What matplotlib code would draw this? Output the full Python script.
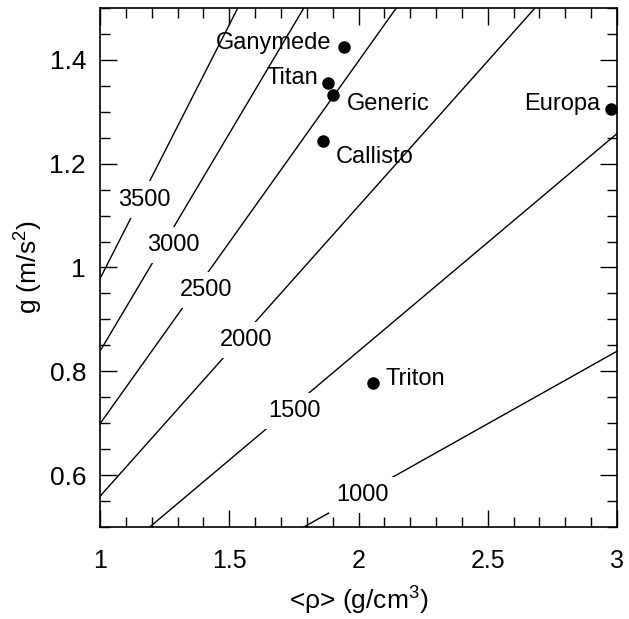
import numpy as np
import matplotlib
matplotlib.use("Agg")
import matplotlib.pyplot as plt
from matplotlib.ticker import MultipleLocator, FuncFormatter

plt.rcParams['font.family'] = ['Liberation Sans', 'DejaVu Sans']
plt.rcParams['mathtext.fontset'] = 'custom'
plt.rcParams['mathtext.rm'] = 'Liberation Sans'
plt.rcParams['mathtext.it'] = 'Liberation Sans:italic'
plt.rcParams['mathtext.bf'] = 'Liberation Sans:bold'

# Bodies: mean density (g/cm^3) and surface gravity (m/s^2)
bodies = ["Ganymede", "Titan", "Generic", "Callisto", "Europa", "Triton"]
rho = [1.944, 1.882, 1.901, 1.863, 2.977, 2.056]
grav = [1.425, 1.355, 1.333, 1.243, 1.305, 0.777]
# label offsets (points) and alignment
label_dx = [-9, -7, 10, 9, -8, 9]
label_dy = [3, 4, -7, -11, 4, 3]
label_ha = ["right", "right", "left", "left", "right", "left"]

# Radius contour levels (km)
radius_levels = [1000, 1500, 2000, 2500, 3000, 3500]
# label positions for each contour (rho, g)
label_x = [2.014, 1.754, 1.567, 1.410, 1.284, 1.170]
label_y = [0.561, 0.724, 0.860, 0.956, 1.043, 1.131]

G = 6.674e-11
k = 4.0 / 3.0 * np.pi * G * 1e3 * 1e3  # g = k * rho[g/cc] * R[km]

fig = plt.figure(figsize=(6.29, 6.19), dpi=100)
ax = fig.add_axes([100/629, 1-527/619, 517/629, 519/619])

xx = np.linspace(0.9, 3.1, 400)
yy = np.linspace(0.4, 1.6, 400)
X, Y = np.meshgrid(xx, yy)
R = Y / (k * X)
cs = ax.contour(X, Y, R, levels=radius_levels, colors='black', linewidths=1.0, zorder=1)
for lev, lx, ly in zip(radius_levels, label_x, label_y):
    ax.text(lx, ly, f"{lev}", fontsize=17, ha='center', va='center', zorder=3,
            bbox=dict(boxstyle='square,pad=0.3', facecolor='white', edgecolor='none'))

ax.plot(rho, grav, 'o', color='black', markersize=8, clip_on=False, zorder=5)
for name, x, y, dx, dy, ha in zip(bodies, rho, grav, label_dx, label_dy, label_ha):
    ax.annotate(name, (x, y), xytext=(dx, dy), textcoords='offset points',
                ha=ha, va='center', fontsize=17, zorder=4)

ax.set_xlim(1, 3)
ax.set_ylim(0.5, 1.5)
ax.xaxis.set_major_locator(MultipleLocator(0.5))
ax.xaxis.set_minor_locator(MultipleLocator(0.1))
ax.yaxis.set_major_locator(MultipleLocator(0.2))
ax.yaxis.set_minor_locator(MultipleLocator(0.05))
ax.tick_params(which='both', direction='in', top=True, right=True, width=1.0)
ax.tick_params(which='major', length=12, labelsize=18)
ax.tick_params(which='minor', length=7)
ax.tick_params(axis='x', which='major', pad=16)
ax.tick_params(axis='y', which='major', pad=10, labelsize=19)
ax.xaxis.set_major_formatter(FuncFormatter(lambda v, p: f"{v:g}"))
ax.yaxis.set_major_formatter(FuncFormatter(lambda v, p: f"{v:g}"))
for s in ax.spines.values():
    s.set_linewidth(1.2)
    s.set_zorder(6)

ax.set_xlabel("<ρ> (g/cm$^3$)", fontsize=19, labelpad=8)
ax.set_ylabel("g (m/s$^2$)", fontsize=19, labelpad=3)

fig.savefig("out.png", dpi=100)
